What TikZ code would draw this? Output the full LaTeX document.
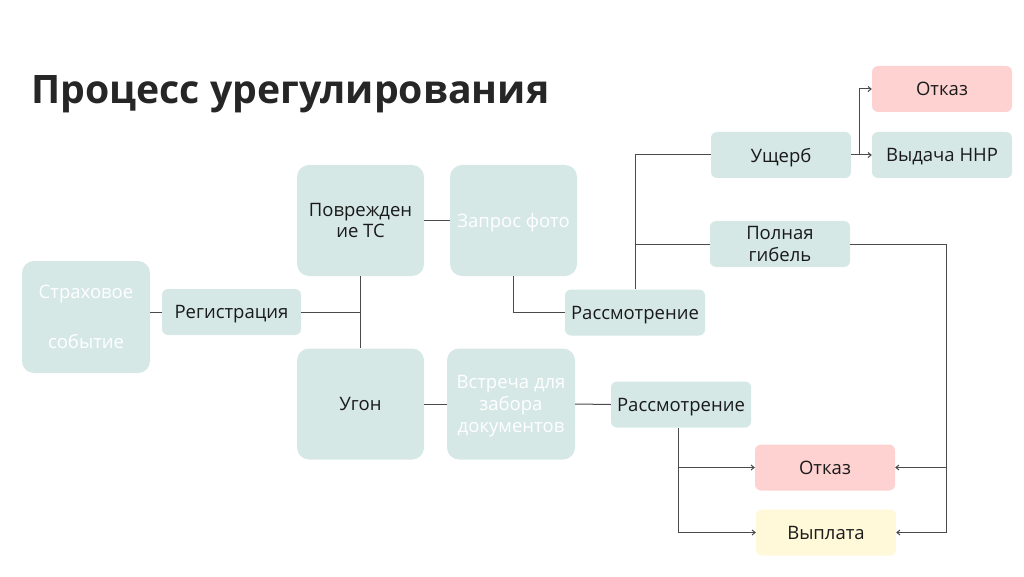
\documentclass[tikz,border=0pt]{standalone}
\usepackage{fontspec}
\setmainfont{Open Sans}
\usetikzlibrary{arrows.meta,calc}
\definecolor{teal}{HTML}{D5E8E5}
\definecolor{pinkbox}{HTML}{FFD2D2}
\definecolor{yellowbox}{HTML}{FFF8D9}
\definecolor{linec}{HTML}{4A4A4A}
\definecolor{txt}{HTML}{1A1A1A}
\tikzset{
  bigbox/.style={fill=teal, draw=none, rounded corners=12pt, minimum width=127pt, minimum height=111pt, inner sep=0pt, text depth=0pt, align=center, font=\fontsize{18.5}{21.5}\selectfont},
  smallbox/.style={fill=teal, draw=none, rounded corners=6pt, minimum width=140pt, minimum height=46pt, inner sep=0pt, text depth=0pt, align=center, font=\fontsize{18.5}{21.5}\selectfont, text=txt},
  conn/.style={draw=linec, line width=1pt},
  arr/.style={conn, -{Straight Barb[length=3pt,width=5pt]}}
}
\begin{document}
\begin{tikzpicture}[x=1pt,y=-1pt]
\useasboundingbox[fill=white] (0,0) rectangle (1024,577);
\node[anchor=base west, inner sep=0pt, font=\fontsize{39.2}{46}\selectfont\bfseries, text=black!85] (title) at (31,103.5) {Процесс урегулирования};

\node[bigbox, minimum width=128pt, minimum height=112pt, text=white, font=\fontsize{18.5}{50}\selectfont] (ins) at (86,317) {Страховое\\событие};
\node[smallbox, minimum width=139pt] (reg) at (231.5,312) {Регистрация};
\node[bigbox, text=txt] (pov) at (360.5,220.5) {Поврежден\\ие ТС};
\node[bigbox, text=txt] (ugon) at (360.5,404) {Угон};
\node[bigbox, text=white] (zap) at (513.5,220.5) {Запрос фото};
\node[bigbox, minimum width=128pt, text=white, font=\fontsize{18.5}{22}\selectfont] (vst) at (511,404) {Встреча для\\забора\\документов};
\node[smallbox] (r1) at (635,312.5) {Рассмотрение};
\node[smallbox] (r2) at (681,404.5) {Рассмотрение};
\node[smallbox] (usch) at (781,155) {Ущерб};
\node[smallbox] (pg) at (780,244) {Полная\\гибель};
\node[smallbox, fill=pinkbox] (ot1) at (942,89) {Отказ};
\node[smallbox] (vyd) at (942,155) {Выдача ННР};
\node[smallbox, fill=pinkbox] (ot2) at (825,467.5) {Отказ};
\node[smallbox, fill=yellowbox] (vypl) at (826,532.5) {Выплата};

\draw[conn] (ins.east |- reg.west) -- (reg.west);
\draw[conn] (reg.east) -- (reg.east -| pov.south);
\draw[conn] (pov.south) -- (ugon.north);
\draw[conn] (pov.east) -- (zap.west);
\draw[conn] (ugon.east) -- (vst.west);
\draw[conn] (vst.east) -- (r2.west);
\draw[conn] (zap.south) |- (r1.west);
\draw[conn] (r1.north) |- (usch.west);
\draw[conn] (r1.north |- pg.west) -- (pg.west);
\coordinate (j1) at (859,155);
\draw[conn] (usch.east) -- (j1);
\draw[arr] (j1) |- (ot1.west);
\draw[arr] (j1) -- (vyd.west);
\coordinate (j2) at (946,244);
\draw[conn] (pg.east) -- (j2);
\draw[arr] (j2) |- (ot2.east);
\draw[arr] (j2) |- (vypl.east);
\coordinate (j3) at (678,428);
\draw[arr] (j3) |- (ot2.west);
\draw[arr] (j3) |- (vypl.west);
\end{tikzpicture}
\end{document}
